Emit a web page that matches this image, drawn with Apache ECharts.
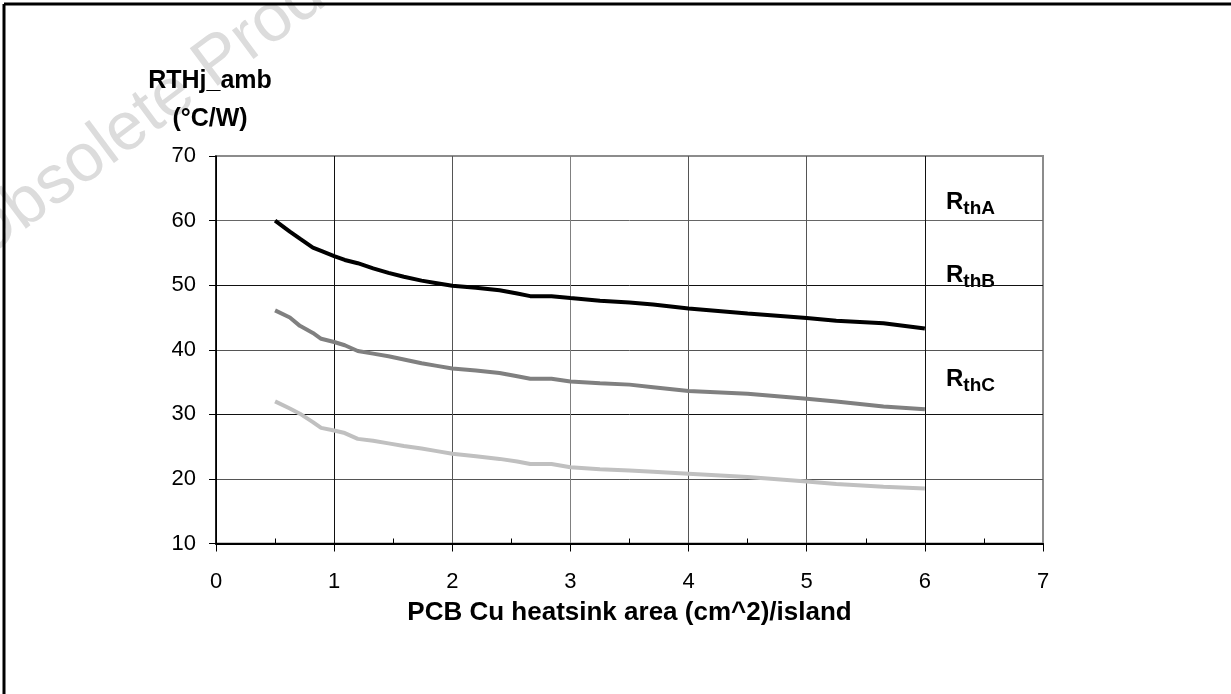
<!DOCTYPE html>
<html>
<head>
<meta charset="utf-8">
<script src="https://cdn.jsdelivr.net/npm/echarts@6/dist/echarts.min.js"></script>
<style>
html,body{margin:0;padding:0;background:#fff;}
#chart{width:1231px;height:694px;}
</style>
</head>
<body>
<div id="chart"></div>
<script>
// Data
var xValues = [0.5,0.625,0.71,0.82,0.89,1.0,1.09,1.2,1.33,1.46,1.59,1.74,1.87,2.0,2.2,2.4,2.55,2.66,2.84,3.0,3.25,3.5,3.7,4.0,4.5,5.0,5.25,5.65,6.0];
var rthA = [60,58.3,57.2,55.8,55.3,54.5,53.9,53.4,52.6,51.9,51.3,50.7,50.3,49.9,49.6,49.2,48.7,48.3,48.3,48.0,47.6,47.3,47.0,46.4,45.6,44.9,44.5,44.1,43.3];
var rthB = [46.1,45.0,43.7,42.6,41.7,41.2,40.7,39.8,39.4,39.0,38.5,37.9,37.5,37.1,36.8,36.4,35.9,35.5,35.5,35.1,34.8,34.6,34.2,33.6,33.2,32.4,32.0,31.2,30.8];
var rthC = [32.0,30.9,30.1,28.8,27.9,27.5,27.1,26.2,25.9,25.5,25.1,24.7,24.3,23.9,23.5,23.1,22.7,22.3,22.3,21.8,21.5,21.3,21.1,20.8,20.3,19.6,19.2,18.8,18.5];
var seriesNames = ['RthA','RthB','RthC'];
var seriesSubs = ['thA','thB','thC'];
var xTitle = 'PCB Cu heatsink area (cm^2)/island';
var yTitle = 'RTHj_amb\n(°C/W)';
var watermark = 'Obsolete Product(s)';

function pairs(ys){ return xValues.map(function(x,i){ return [x, ys[i]]; }); }

var chart = echarts.init(document.getElementById('chart'), null, {renderer:'canvas'});
var font = 'Liberation Sans, Arial, sans-serif';

var labelTops = [190.5, 263.5, 367.5];
var graphics = [
  {type:'text', z:-10, silent:true, x:-11, y:275, rotation:0.64,
   style:{text:watermark, font:'68px ' + font, fill:'#dcdcdc', align:'left', verticalAlign:'bottom'}},
  {type:'line', shape:{x1:4,y1:4,x2:4,y2:700}, style:{stroke:'#000', lineWidth:3}},
  {type:'line', shape:{x1:4,y1:4,x2:1240,y2:4}, style:{stroke:'#000', lineWidth:3}},
  {type:'text', x:210, y:62, style:{text:yTitle, font:'bold 25px ' + font, fill:'#000', align:'center', verticalAlign:'top', lineHeight:38}}
];
seriesSubs.forEach(function(s,i){
  graphics.push({type:'text', x:946, y:labelTops[i], style:{
    text:'{r|R}{s|' + s + '}',
    verticalAlign:'top',
    rich:{
      r:{fontSize:24, fontWeight:'bold', fontFamily:font, fill:'#000', lineHeight:28, verticalAlign:'top'},
      s:{fontSize:19, fontWeight:'bold', fontFamily:font, fill:'#000', verticalAlign:'bottom'}
    }
  }});
});

var option = {
  backgroundColor:'#fff',
  animation:false,
  grid:{left:216, top:156, right:188, bottom:150.5, show:true, borderColor:'#8c8c8c', borderWidth:2, backgroundColor:'transparent'},
  graphic: graphics,
  xAxis:{
    type:'value', min:0, max:7, interval:1,
    name:xTitle, nameLocation:'middle', nameGap:56,
    nameTextStyle:{fontFamily:font, fontSize:26, fontWeight:'bold', color:'#000'},
    axisLine:{show:true, onZero:false, lineStyle:{color:'#000', width:2}},
    axisTick:{show:true, length:8, lineStyle:{color:'#000', width:1}},
    minorTick:{show:true, splitNumber:2, length:-5, lineStyle:{color:'#000', width:1}},
    axisLabel:{fontFamily:font, fontSize:22, color:'#000', margin:27},
    splitLine:{show:true, lineStyle:{color:['#000','#111','#555','#808080','#555','#555','#111','#8c8c8c'], width:1}}
  },
  yAxis:{
    type:'value', min:10, max:70, interval:10,
    axisLine:{show:true, lineStyle:{color:'#000', width:1.5}},
    axisTick:{show:true, length:7, lineStyle:{color:'#000', width:1}},
    axisLabel:{fontFamily:font, fontSize:22, color:'#000', margin:20},
    splitLine:{show:true, lineStyle:{color:['#000','#555','#111','#555','#111','#666','#8c8c8c'], width:1}}
  },
  series:[
    {name:seriesNames[0], type:'line', data:pairs(rthA), showSymbol:false, z:5, lineStyle:{color:'#000000', width:4}, itemStyle:{color:'#000'}},
    {name:seriesNames[1], type:'line', data:pairs(rthB), showSymbol:false, z:4, lineStyle:{color:'#808080', width:4}, itemStyle:{color:'#808080'}},
    {name:seriesNames[2], type:'line', data:pairs(rthC), showSymbol:false, z:3, lineStyle:{color:'#c0c0c0', width:4}, itemStyle:{color:'#c0c0c0'}}
  ]
};
chart.setOption(option);
</script>
</body>
</html>
